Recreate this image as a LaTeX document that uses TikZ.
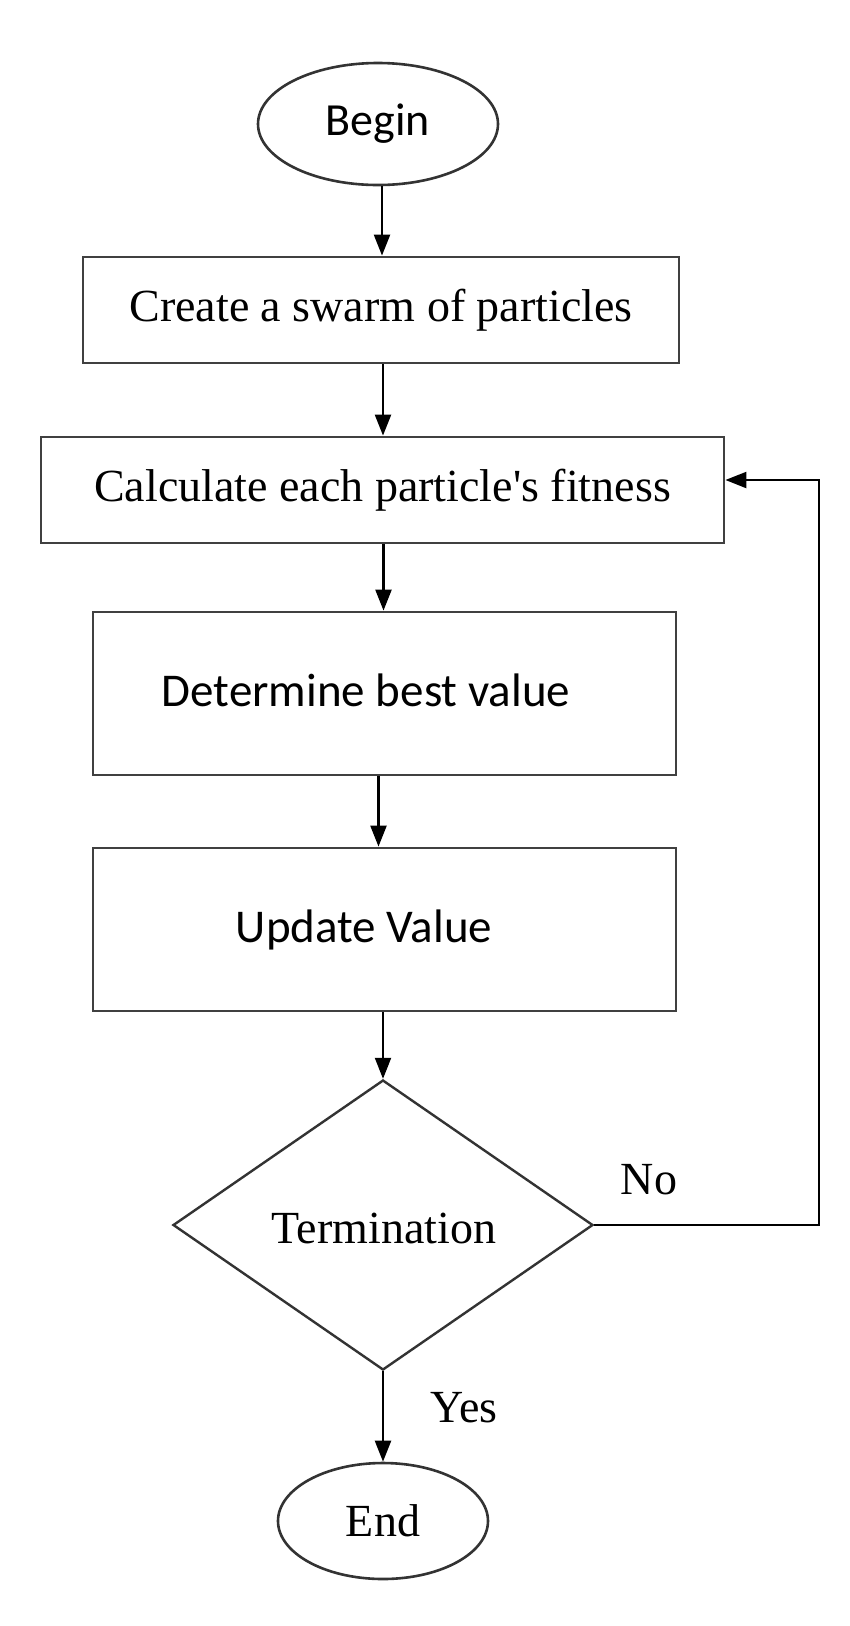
\documentclass[tikz,border=0pt]{standalone}
\usepackage{fontspec}
\setmainfont{Liberation Serif}
\newfontfamily\calib{Carlito}
\usetikzlibrary{shapes.geometric,arrows.meta}
\begin{document}
\begin{tikzpicture}[x=1pt,y=-1pt,
  boxstyle/.style={draw=black!75,line width=2.8pt,rectangle,inner sep=0pt},
  ovalstyle/.style={draw=black!80,line width=2.6pt,ellipse,inner sep=0pt},
  decstyle/.style={draw=black!80,line width=2.4pt,diamond,inner sep=0pt},
  serif/.style={font=\fontsize{46}{50}\selectfont},
  sans/.style={font=\calib\fontsize{47}{52}\selectfont},
  arr/.style={draw=black,line width=2.2pt,-{Triangle[length=21pt,width=16pt]}},
  plain/.style={draw=black!85,line width=2pt}]
\useasboundingbox (0,0) rectangle (850,1626);
\fill[white] (0,0) rectangle (850,1626);

\node[ovalstyle,minimum width=240pt,minimum height=122pt,font=\calib\fontsize{46}{50}\selectfont] (begin) at (378,124) {Begin};
\node[boxstyle,serif,minimum width=596pt,minimum height=106pt] (create) at (381,310) {Create a swarm of particles};
\node[boxstyle,serif,minimum width=683pt,minimum height=106pt] (calc) at (382.5,490) {Calculate each particle\textquotesingle s fitness};
\node[boxstyle,minimum width=583pt,minimum height=163pt] (best) at (384.5,693.5) {};
\node[sans] (besttext) at (366,690) {Determine best value};
\node[boxstyle,minimum width=583pt,minimum height=163pt] (update) at (384.5,929.5) {};
\node[sans] (updatetext) at (364,930) {Update Value};
\node[decstyle,minimum width=420pt,minimum height=290pt] (term) at (383,1225) {};
\node[serif] (termtext) at (384,1228) {Termination};
\node[ovalstyle,minimum width=210pt,minimum height=116pt,serif] (end) at (383,1521) {End};

\node[serif] (no) at (649,1180) {No};
\node[serif] (yes) at (464,1408) {Yes};

\coordinate (c1) at (819,1225);
\coordinate (c2) at (819,480);

\draw[arr] ([xshift=4pt]begin.south) -- ([xshift=4pt]begin.south |- create.north);
\draw[arr] ([xshift=2pt]create.south) -- ([xshift=2pt]create.south |- calc.north);
\draw[arr] ([xshift=1pt]calc.south) -- ([xshift=1pt]calc.south |- best.north);
\draw[arr] ([xshift=-6pt]best.south) -- ([xshift=-6pt]best.south |- update.north);
\draw[arr] (update.south -| term.north) -- (term.north);
\draw[arr] (term.south) -- (end.north);
\draw[arr] (term.east) -- (c1) -- (c2) -- (calc.east |- c2);
\end{tikzpicture}
\end{document}
